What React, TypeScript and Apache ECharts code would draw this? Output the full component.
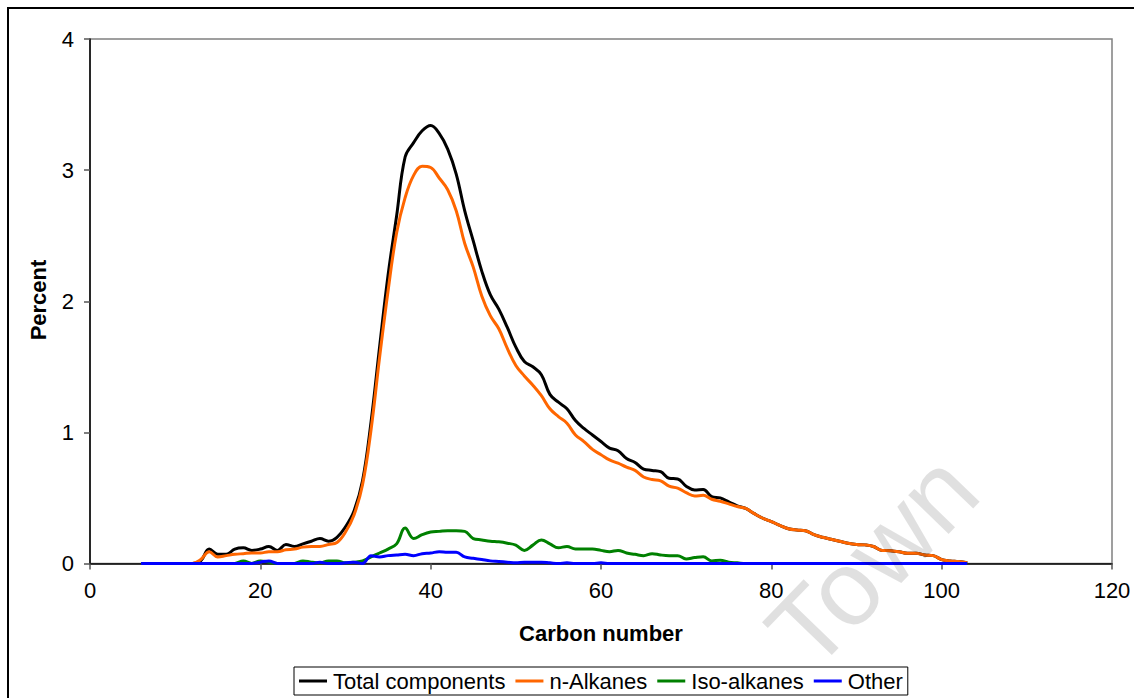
import React, { useEffect, useRef } from "react";
import * as echarts from "echarts";

const carbon = [
  6, 7, 8, 9, 10, 11, 12, 13, 14, 15, 16, 17, 18, 19, 20, 21, 22, 23, 24, 25,
  26, 27, 28, 29, 30, 31, 32, 33, 34, 35, 36, 37, 38, 39, 40, 41, 42, 43, 44, 45,
  46, 47, 48, 49, 50, 51, 52, 53, 54, 55, 56, 57, 58, 59, 60, 61, 62, 63, 64, 65,
  66, 67, 68, 69, 70, 71, 72, 73, 74, 75, 76, 77, 78, 79, 80, 81, 82, 83, 84, 85,
  86, 87, 88, 89, 90, 91, 92, 93, 94, 95, 96, 97, 98, 99, 100, 101, 102, 103,
];

const totalComponents = [
  0, 0, 0, 0, 0, 0, 0, 0.02, 0.11, 0.07, 0.07, 0.11, 0.12, 0.1, 0.11, 0.13, 0.1, 0.145, 0.13, 0.15,
  0.17, 0.19, 0.17, 0.2, 0.28, 0.4, 0.63, 1.08, 1.65, 2.2, 2.65, 3.1, 3.21, 3.3, 3.34, 3.28, 3.16, 2.97, 2.69, 2.46,
  2.23, 2.05, 1.94, 1.8, 1.65, 1.54, 1.5, 1.44, 1.29, 1.23, 1.18, 1.09, 1.03, 0.98, 0.93, 0.88, 0.86, 0.8, 0.77, 0.72,
  0.71, 0.7, 0.65, 0.645, 0.59, 0.56, 0.565, 0.51, 0.5, 0.47, 0.44, 0.42, 0.38, 0.345, 0.32, 0.29, 0.265, 0.255, 0.25, 0.22,
  0.2, 0.185, 0.17, 0.155, 0.145, 0.142, 0.13, 0.1, 0.098, 0.09, 0.078, 0.078, 0.065, 0.06, 0.03, 0.02, 0.015, 0.005,
];

const nAlkanes = [
  0, 0, 0, 0, 0, 0, 0, 0.03, 0.09, 0.05, 0.06, 0.07, 0.075, 0.08, 0.08, 0.09, 0.09, 0.105, 0.11, 0.125,
  0.13, 0.13, 0.145, 0.16, 0.24, 0.37, 0.6, 1.02, 1.57, 2.08, 2.52, 2.79, 2.96, 3.03, 3.02, 2.94, 2.85, 2.69, 2.44, 2.26,
  2.04, 1.89, 1.79, 1.64, 1.51, 1.43, 1.36, 1.28, 1.18, 1.12, 1.07, 0.98, 0.93, 0.87, 0.83, 0.79, 0.765, 0.735, 0.71, 0.66,
  0.64, 0.63, 0.59, 0.575, 0.54, 0.515, 0.52, 0.49, 0.475, 0.455, 0.435, 0.42, 0.38, 0.345, 0.32, 0.29, 0.265, 0.255, 0.25, 0.22,
  0.2, 0.185, 0.17, 0.155, 0.145, 0.142, 0.13, 0.1, 0.098, 0.09, 0.078, 0.078, 0.065, 0.06, 0.03, 0.02, 0.015, 0.005,
];

const isoAlkanes = [
  0, 0, 0, 0, 0, 0, 0, 0, 0, 0, 0, 0, 0.02, 0, 0.02, 0.01, 0, 0, 0, 0.02,
  0.01, 0.005, 0.02, 0.02, 0.005, 0.01, 0.02, 0.05, 0.08, 0.11, 0.15, 0.27, 0.19, 0.22, 0.24, 0.245, 0.25, 0.25, 0.245, 0.19,
  0.18, 0.17, 0.165, 0.155, 0.14, 0.1, 0.14, 0.18, 0.15, 0.12, 0.13, 0.11, 0.11, 0.11, 0.1, 0.09, 0.1, 0.08, 0.07, 0.06,
  0.075, 0.065, 0.06, 0.06, 0.035, 0.045, 0.052, 0.02, 0.025, 0.01, 0.005, 0, 0, 0, 0, 0, 0, 0, 0, 0,
  0, 0, 0, 0, 0, 0, 0, 0, 0, 0, 0, 0, 0, 0, 0, 0, 0, 0,
];

const other = [
  0, 0, 0, 0, 0, 0, 0, 0, 0, 0, 0, 0, 0, 0, 0.01, 0.02, 0, 0, 0, 0,
  0, 0.01, 0, 0, 0.005, 0.01, 0, 0.06, 0.05, 0.06, 0.065, 0.07, 0.06, 0.075, 0.08, 0.09, 0.085, 0.085, 0.05, 0.04,
  0.03, 0.02, 0.015, 0.01, 0.005, 0.01, 0.01, 0.01, 0.005, 0, 0.005, 0, 0, 0, 0.005, 0, 0, 0, 0, 0,
  0, 0, 0, 0, 0, 0, 0, 0, 0, 0, 0, 0, 0, 0, 0, 0, 0, 0, 0, 0,
  0, 0, 0, 0, 0, 0, 0, 0, 0, 0, 0, 0, 0, 0, 0, 0, 0, 0,
];

const seriesNames = ["Total components", "n-Alkanes", "Iso-alkanes", "Other"];
const seriesColors = ["#000000", "#FF6600", "#008000", "#0000FF"];
const seriesValues = [totalComponents, nAlkanes, isoAlkanes, other];

const FONT = "'Liberation Sans', Arial, sans-serif";

export default function App() {
  const ref = useRef<HTMLDivElement>(null);
  useEffect(() => {
    const chart = echarts.init(ref.current!, null, { renderer: "svg" });
    chart.setOption({
      animation: false,
      backgroundColor: "#ffffff",
      textStyle: { fontFamily: FONT },
      grid: {
        left: 90,
        right: 22,
        top: 39,
        bottom: 134.5,
        show: true,
        borderColor: "#808080",
        borderWidth: 1.5,
      },
      xAxis: {
        type: "value",
        min: 0,
        max: 120,
        interval: 20,
        axisLine: { show: true, lineStyle: { color: "#000", width: 1.5 } },
        axisTick: { show: true, length: 6, lineStyle: { color: "#555", width: 1.5 } },
        axisLabel: { fontSize: 22, color: "#000", margin: 16, fontFamily: FONT },
        splitLine: { show: false },
      },
      yAxis: {
        type: "value",
        min: 0,
        max: 4,
        interval: 1,
        axisLine: { show: true, lineStyle: { color: "#000", width: 1.5 } },
        axisTick: { show: true, length: 6, lineStyle: { color: "#555", width: 1.5 } },
        axisLabel: { fontSize: 22, color: "#000", margin: 16, fontFamily: FONT },
        splitLine: { show: false },
      },
      legend: {
        left: 294,
        top: 667,
        orient: "horizontal",
        padding: [3, 5, 3, 5],
        itemGap: 10,
        itemWidth: 28,
        itemHeight: 3,
        icon: "rect",
        borderColor: "#000",
        borderWidth: 1,
        textStyle: { fontSize: 22, color: "#000", fontFamily: FONT, padding: [0, 0, 0, 1] },
        data: seriesNames,
      },
      graphic: [
        {
          type: "rect",
          shape: { x: 8, y: 8, width: 1140, height: 700 },
          style: { fill: "none", stroke: "#000", lineWidth: 2 },
          silent: true,
          z: -10,
        },
        {
          type: "text",
          x: 38,
          y: 300,
          rotation: Math.PI / 2,
          style: {
            text: "Percent",
            fontSize: 22,
            fontWeight: "bold",
            fontFamily: FONT,
            fill: "#000",
            align: "center",
            verticalAlign: "middle",
          },
        },
        {
          type: "text",
          x: 601,
          y: 633,
          style: {
            text: "Carbon number",
            fontSize: 22,
            fontWeight: "bold",
            fontFamily: FONT,
            fill: "#000",
            align: "center",
            verticalAlign: "middle",
          },
        },
        {
          type: "text",
          x: 872,
          y: 560,
          rotation: (46 * Math.PI) / 180,
          z: 100,
          silent: true,
          style: {
            text: "Town",
            fontSize: 106,
            fontFamily: FONT,
            fill: "rgba(0,0,0,0.12)",
            align: "center",
            verticalAlign: "middle",
          },
        },
      ],
      series: seriesNames.map((name, k) => ({
        name,
        type: "line",
        smooth: 0.4,
        showSymbol: false,
        symbol: "none",
        color: seriesColors[k],
        lineStyle: { width: 3, color: seriesColors[k] },
        data: carbon.map((c, i) => [c, seriesValues[k][i]]),
        z: 2 + k,
      })),
    });
    return () => chart.dispose();
  }, []);
  return (
    <div
      ref={ref}
      style={{ position: "fixed", left: 0, top: 0, width: 1134, height: 698, background: "#fff" }}
    />
  );
}
